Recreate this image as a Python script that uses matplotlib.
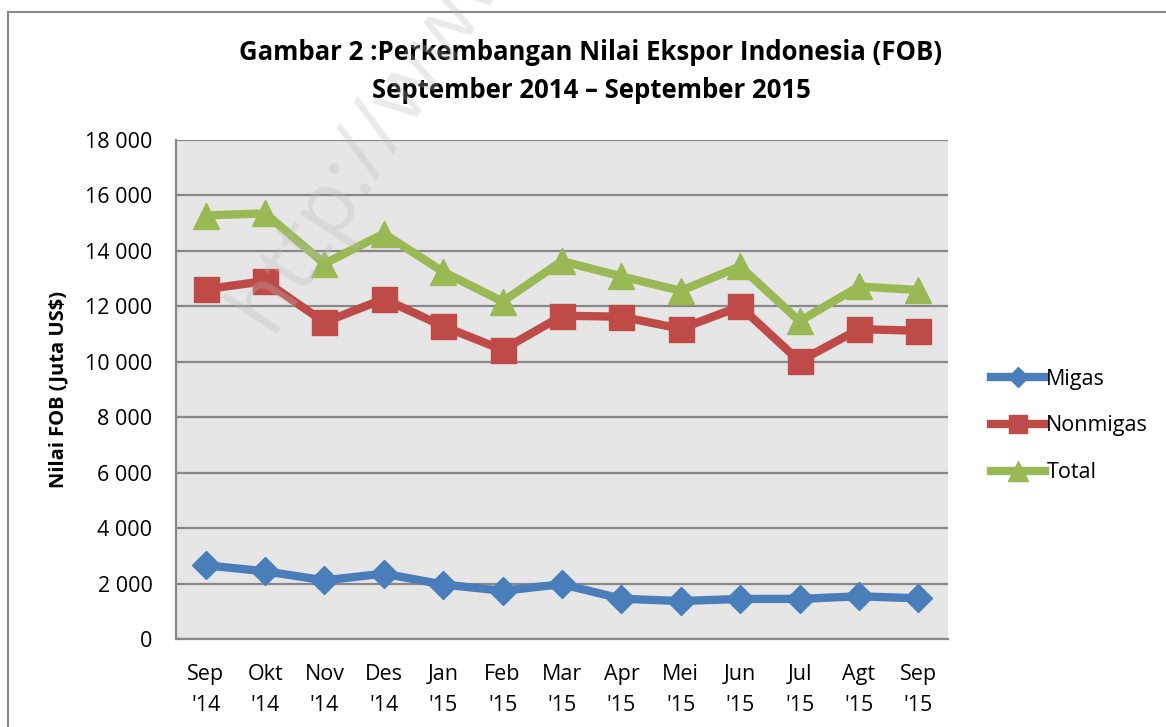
import matplotlib.pyplot as plt
from matplotlib.ticker import FuncFormatter

plt.rcParams['font.family'] = ['Open Sans', 'DejaVu Sans']

bulan = ["Sep\n'14", "Okt\n'14", "Nov\n'14", "Des\n'14", "Jan\n'15", "Feb\n'15", "Mar\n'15",
         "Apr\n'15", "Mei\n'15", "Jun\n'15", "Jul\n'15", "Agt\n'15", "Sep\n'15"]
migas = [2658, 2442, 2115, 2356, 1965, 1741, 1975, 1454, 1368, 1445, 1446, 1540, 1468]
nonmigas = [12618, 12911, 11425, 12267, 11280, 10432, 11660, 11627, 11191, 11995, 10019, 11176, 11120]
total = [15276, 15354, 13540, 14623, 13245, 12173, 13634, 13080, 12560, 13441, 11465, 12716, 12588]

W, H = 1166, 727
fig = plt.figure(figsize=(W / 100, H / 100), dpi=100)
ax = fig.add_axes([176 / W, 1 - 639 / H, (948 - 176) / W, (639 - 140) / H])

# chart frame (only left and top edges visible)
fig.add_artist(plt.Line2D([8 / W, 8 / W], [0, 1 - 12 / H], color='#888888', lw=1.5))
fig.add_artist(plt.Line2D([8 / W, 1], [1 - 12 / H, 1 - 12 / H], color='#888888', lw=1.5))

ax.set_facecolor('#E6E6E6')
x = range(len(bulan))
ax.plot(x, migas, color='#4A7EBB', lw=6, marker='D', ms=14, label='Migas', zorder=3)
ax.plot(x, nonmigas, color='#BE4B48', lw=6, marker='s', ms=18, label='Nonmigas', zorder=3)
ax.plot(x, total, color='#98B954', lw=6, marker='^', ms=19, label='Total', zorder=3)

ax.set_xlim(-0.5, len(bulan) - 0.5)
ax.set_ylim(0, 18000)
ax.set_yticks(range(0, 18001, 2000))
ax.yaxis.set_major_formatter(FuncFormatter(lambda v, p: f'{int(v):,}'.replace(',', ' ')))
ax.set_xticks(list(x))
ax.set_xticklabels(bulan, linespacing=1.6)
ax.tick_params(axis='both', length=0, labelsize=15.5)
ax.tick_params(axis='y', pad=17)
ax.tick_params(axis='x', pad=18)
ax.grid(axis='y', color='#888888', lw=1.6)
ax.set_axisbelow(True)
for s in ['top', 'right']:
    ax.spines[s].set_visible(False)
for s in ['left', 'bottom']:
    ax.spines[s].set_color('#888888')
    ax.spines[s].set_linewidth(1.6)

ax.set_ylabel('Nilai FOB (Juta US$)', fontsize=14.5, fontweight='bold', labelpad=12)

fig.text(591 / W, 1 - 52 / H, 'Gambar 2 :Perkembangan Nilai Ekspor Indonesia (FOB)',
         ha='center', va='center', fontsize=18.5, fontweight='bold')
fig.text(591 / W, 1 - 90 / H, 'September 2014 \u2013 September 2015',
         ha='center', va='center', fontsize=18.5, fontweight='bold')

# watermark
fig.text(215 / W, 1 - 345 / H, 'http://www', rotation=57, fontsize=62, color='#BBBBBB',
         alpha=0.3, ha='left', va='bottom')

leg = fig.legend(loc='center left', bbox_to_anchor=(972 / W, 1 - 426 / H), frameon=False,
                 fontsize=15.5, handlelength=2.5, handletextpad=0.05, labelspacing=1.2,
                 markerscale=0.75)

fig.savefig('out.png', dpi=100)
